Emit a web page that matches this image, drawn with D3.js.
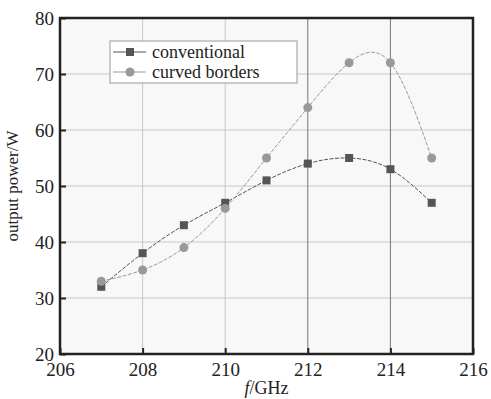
<!DOCTYPE html>
<html>
<head>
<meta charset="utf-8">
<script src="https://cdn.jsdelivr.net/npm/d3@7"></script>
<style>
  body { margin: 0; background: #fff; }
</style>
</head>
<body>
<script>
const freqs = [207, 208, 209, 210, 211, 212, 213, 214, 215];
const conventional = [32, 38, 43, 47, 51, 54, 55, 53, 47];
const curvedBorders = [33, 35, 39, 46, 55, 64, 72, 72, 55];
const xTicks = [206, 208, 210, 212, 214, 216];
const yTicks = [20, 30, 40, 50, 60, 70, 80];

const FONT = 'Liberation Serif';
const W = 491, H = 399;
const MARGIN = { top: 18, right: 18, bottom: 45, left: 60 };
const iw = W - MARGIN.left - MARGIN.right;
const ih = H - MARGIN.top - MARGIN.bottom;

const svg = d3.select('body').append('svg').attr('width', W).attr('height', H)
  .attr('font-family', FONT);
const g = svg.append('g').attr('transform', 'translate(' + MARGIN.left + ',' + MARGIN.top + ')');

const x = d3.scaleLinear().domain([206, 216]).range([0, iw]);
const y = d3.scaleLinear().domain([20, 80]).range([ih, 0]);

// plot background
g.append('rect').attr('width', iw).attr('height', ih).attr('fill', '#f8f8f8');

// grid
g.selectAll('line.hgrid')
  .data(yTicks.slice(1, -1))
  .join('line')
  .attr('class', 'hgrid')
  .attr('x1', 0).attr('x2', iw)
  .attr('y1', d => y(d)).attr('y2', d => y(d))
  .attr('stroke', '#c8c8c8').attr('stroke-width', 1);
g.selectAll('line.vgrid')
  .data(xTicks.slice(1, -1))
  .join('line')
  .attr('class', 'vgrid')
  .attr('y1', 0).attr('y2', ih)
  .attr('x1', d => x(d)).attr('x2', d => x(d))
  .attr('stroke', d => d >= 212 ? '#777' : '#c8c8c8').attr('stroke-width', 1);

// axes
const xAxis = g.append('g').attr('transform', 'translate(0,' + ih + ')')
  .call(d3.axisBottom(x).tickValues(xTicks).tickSizeInner(-6).tickSizeOuter(0).tickPadding(11));
const yAxis = g.append('g')
  .call(d3.axisLeft(y).tickValues(yTicks).tickSizeInner(-6).tickSizeOuter(0).tickPadding(6));
[xAxis, yAxis].forEach(a => {
  a.attr('font-family', FONT).attr('font-size', 19);
  a.select('.domain').remove();
  a.selectAll('line').attr('stroke', '#222').attr('stroke-width', 2);
  a.selectAll('text').attr('font-family', FONT).attr('fill', '#222');
});
xAxis.selectAll('text').attr('dy', '0.6em');
yAxis.selectAll('text').attr('dy', '0.32em');

// frame
g.append('rect').attr('width', iw).attr('height', ih)
  .attr('fill', 'none').attr('stroke', '#222').attr('stroke-width', 2.5);

// series
const series = [
  { name: 'conventional', values: conventional, color: '#555', shape: 'square', dash: '4,1.5' },
  { name: 'curved borders', values: curvedBorders, color: '#999', shape: 'circle', dash: '4,1.5' }
];
const line = d3.line().x(d => x(d[0])).y(d => y(d[1])).curve(d3.curveNatural);

series.forEach(s => {
  const pts = freqs.map((f, i) => [f, s.values[i]]);
  g.append('path').datum(pts)
    .attr('d', line)
    .attr('fill', 'none')
    .attr('stroke', s.color)
    .attr('stroke-width', 1)
    .attr('stroke-dasharray', s.dash);
  if (s.shape === 'square') {
    g.selectAll(null).data(pts).join('rect')
      .attr('x', d => x(d[0]) - 4).attr('y', d => y(d[1]) - 4)
      .attr('width', 8).attr('height', 8)
      .attr('fill', s.color);
  } else {
    g.selectAll(null).data(pts).join('circle')
      .attr('cx', d => x(d[0])).attr('cy', d => y(d[1]))
      .attr('r', 4.5)
      .attr('fill', s.color);
  }
});

// legend
const lg = svg.append('g').attr('transform', 'translate(110,41)');
lg.append('rect').attr('width', 187).attr('height', 42)
  .attr('fill', '#fff').attr('stroke', '#999').attr('stroke-width', 1);
series.forEach((s, i) => {
  const yy = 11 + i * 20;
  lg.append('line').attr('x1', 3).attr('x2', 36).attr('y1', yy).attr('y2', yy)
    .attr('stroke', s.color).attr('stroke-width', 1);
  if (s.shape === 'square') {
    lg.append('rect').attr('x', 16).attr('y', yy - 4).attr('width', 8).attr('height', 8).attr('fill', s.color);
  } else {
    lg.append('circle').attr('cx', 20).attr('cy', yy).attr('r', 4.5).attr('fill', s.color);
  }
  lg.append('text').attr('x', 42).attr('y', yy).attr('dy', '0.32em')
    .attr('font-family', FONT).attr('font-size', 18).attr('fill', '#222').text(s.name);
});

// axis titles
svg.append('text')
  .attr('transform', 'translate(18,' + (MARGIN.top + ih / 2) + ') rotate(-90)')
  .attr('text-anchor', 'middle')
  .attr('font-family', FONT).attr('font-size', 17).attr('fill', '#222')
  .text('output power/W');
const xt = svg.append('text')
  .attr('x', MARGIN.left + iw / 2).attr('y', 394)
  .attr('text-anchor', 'middle')
  .attr('font-family', FONT).attr('font-size', 18).attr('fill', '#222');
xt.append('tspan').attr('font-style', 'italic').text('f');
xt.append('tspan').text('/GHz');
</script>
</body>
</html>
